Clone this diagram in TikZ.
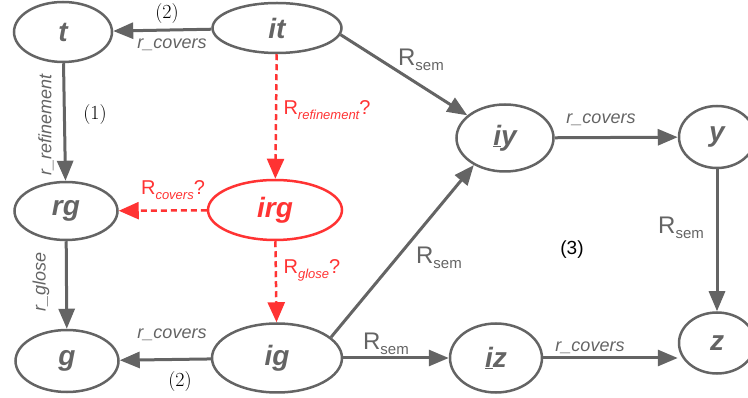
\documentclass[tikz,border=0pt]{standalone}
\usepackage{fontspec}
\setsansfont{Liberation Sans}
\usetikzlibrary{arrows.meta,shapes.geometric}
\definecolor{szurke}{HTML}{646464}
\definecolor{piros}{HTML}{FF3333}
\newcommand{\Rsem}{{\fontsize{24}{24}\selectfont R}\raisebox{-5pt}{\fontsize{15}{15}\selectfont sem}}
\newcommand{\Rkerdes}[1]{{\fontsize{20}{20}\selectfont R}\raisebox{-5pt}{\itshape\fontsize{13}{13}\selectfont #1}{\fontsize{20}{20}\selectfont ?}}
\tikzset{
  csucs/.style={ellipse,draw=szurke,line width=2.5pt,inner sep=0pt,text=szurke,
                font=\sffamily\bfseries\itshape\fontsize{28}{28}\selectfont},
  pcsucs/.style={csucs,draw=piros,text=piros},
  nyil/.style={draw=szurke,line width=3pt,-{Triangle[length=20pt,width=16pt]}},
  pnyil/.style={draw=piros,line width=2.5pt,dash pattern=on 6pt off 4pt,
                -{Triangle[length=20pt,width=17pt]}},
  cimke/.style={font=\sffamily\itshape\fontsize{18}{18}\selectfont,text=szurke,inner sep=1pt},
  rcimke/.style={font=\sffamily,text=szurke,inner sep=1pt},
  pcimke/.style={font=\sffamily,text=piros,inner sep=1pt},
  szam/.style={font=\fontsize{20}{20}\selectfont,inner sep=1pt},
}
\begin{document}
\begin{tikzpicture}[x=1pt,y=-1pt]
  \useasboundingbox (0,0) rectangle (748,398);
  % csucsok
  \node[csucs,minimum width=98pt,minimum height=60pt] (t) at (63,32) {t};
  \node[csucs,minimum width=129pt,minimum height=50pt] (it) at (277,28) {it};
  \node[csucs,minimum width=97pt,minimum height=67pt] (iy) at (505,138) {\underline{i}y};
  \node[csucs,minimum width=76pt,minimum height=62pt] (y) at (717,137) {y};
  \node[csucs,minimum width=103pt,minimum height=58pt] (rg) at (66,211) {rg};
  \node[pcsucs,minimum width=134pt,minimum height=60pt] (irg) at (275,210) {irg};
  \node[csucs,minimum width=103pt,minimum height=62pt] (g) at (67,361) {g};
  \node[csucs,minimum width=130pt,minimum height=69pt] (ig) at (277,358) {ig};
  \node[csucs,minimum width=92pt,minimum height=69pt] (iz) at (496,358) {\underline{i}z};
  \node[csucs,minimum width=76pt,minimum height=61pt] (z) at (717,343) {z};
  % elek
  \draw[nyil] (it) -- (t);
  \draw[nyil] (t) -- (rg);
  \draw[nyil] (rg) -- (g);
  \draw[nyil] (ig) -- (g);
  \draw[nyil] (it.-6) -- (iy.149);
  \draw[nyil] (ig.21) -- (iy.221);
  \draw[nyil] (iy) -- (y);
  \draw[nyil] (y) -- (z);
  \draw[nyil] (ig) -- (iz);
  \draw[nyil] (iz) -- (iz -| z.west);
  \draw[pnyil] (it) -- (irg);
  \draw[pnyil] (irg) -- (rg);
  \draw[pnyil] (irg) -- (ig);
  % cimkek
  \node[szam] (n2a) at (167,14) {(2)};
  \node[cimke] (c1) at (172,45) {r\_covers};
  \node[cimke,rotate=90] (c2) at (46,125) {r\_refinement};
  \node[szam] (n1) at (95,115) {(1)};
  \node[cimke,rotate=90] (c3) at (41,282) {r\_glose};
  \node[cimke] (c4) at (172,335) {r\_covers};
  \node[szam] (n2b) at (180,382) {(2)};
  \node[pcimke] (p1) at (327,110) {\Rkerdes{refinement}};
  \node[pcimke] (p2) at (173,190) {\Rkerdes{covers}};
  \node[pcimke] (p3) at (312,270) {\Rkerdes{glose}};
  \node[rcimke] (s1) at (421,60) {\Rsem};
  \node[cimke] (c5) at (601,120) {r\_covers};
  \node[rcimke] (s2) at (439,258) {\Rsem};
  \node[rcimke,font=\sffamily\fontsize{19}{19}\selectfont,text=black] (n3) at (572,250) {(3)};
  \node[rcimke] (s3) at (681,228) {\Rsem};
  \node[rcimke] (s4) at (386,344) {\Rsem};
  \node[cimke] (c6) at (590,348) {r\_covers};
\end{tikzpicture}
\end{document}
